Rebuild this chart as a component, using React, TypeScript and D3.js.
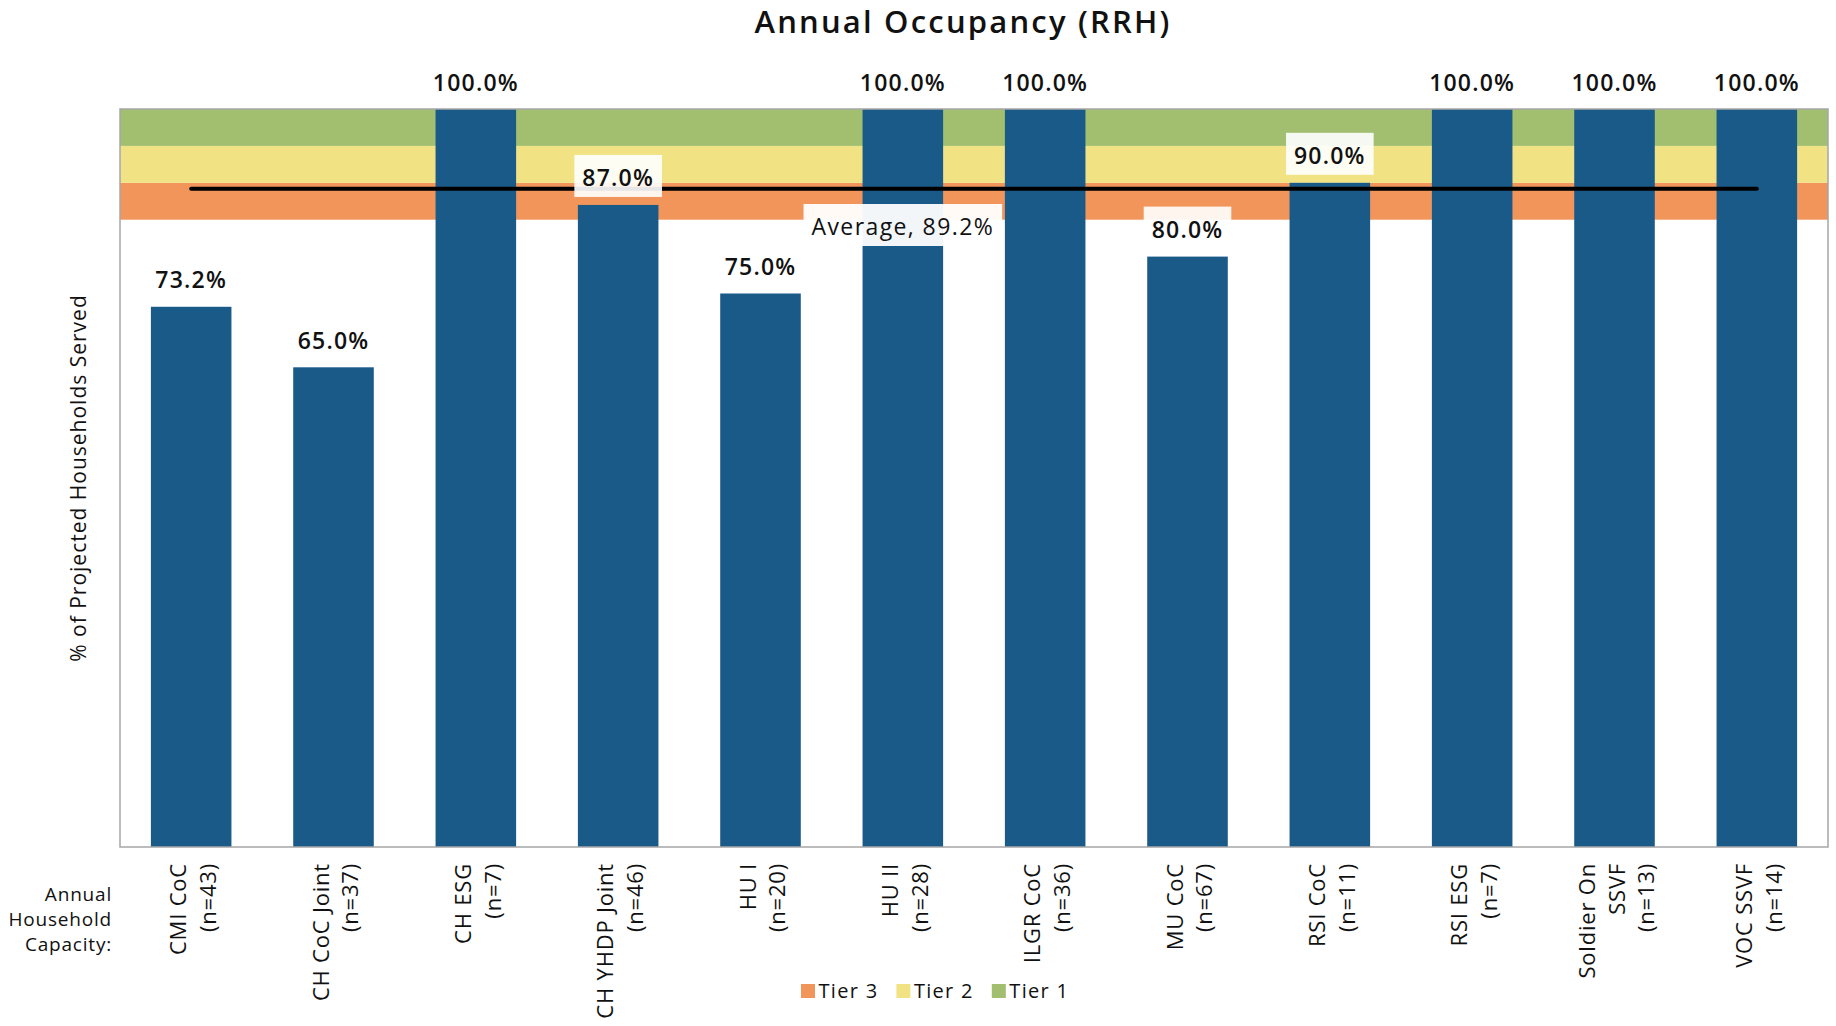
import React, { useEffect, useRef } from "react";
import * as d3 from "d3";

const categories = [
  "CMI CoC",
  "CH CoC Joint",
  "CH ESG",
  "CH YHDP Joint",
  "HU I",
  "HU II",
  "ILGR CoC",
  "MU CoC",
  "RSI CoC",
  "RSI ESG",
  "Soldier On\nSSVF",
  "VOC SSVF",
];
const capacity = [43, 37, 7, 46, 20, 28, 36, 67, 11, 7, 13, 14];
const occupancy = [73.2, 65.0, 100, 87.0, 75.0, 100, 100, 80.0, 90.0, 100, 100, 100];
const averageValue = 89.2;
const averageCategory = "HU II";

const tierNames = ["Tier 3", "Tier 2", "Tier 1"];
const tierLow = [85, 90, 95];
const tierHigh = [90, 95, 100];
const tierColors = ["#F2955A", "#F1E383", "#A2BF6F"];

const yDomain = [0, 100];
const titleText = "Annual Occupancy (RRH)";
const yTitle = "% of Projected Households Served";
const xTitleLines = ["Annual", "Household", "Capacity:"];

const W = 1836;
const H = 1026;
const FONT = "'Open Sans', 'DejaVu Sans', sans-serif";
const BAR = "#1A5A89";

export default function App() {
  const ref = useRef<SVGSVGElement | null>(null);

  useEffect(() => {
    document.body.style.margin = "0";
    const svg = d3.select(ref.current);
    svg.selectAll("*").remove();

    const left = 120, right = 1828, top = 109, bottom = 847;
    const x = d3.scaleBand<string>().domain(categories).range([left, right]).paddingInner(0.434).paddingOuter(0.217);
    const y = d3.scaleLinear().domain(yDomain).range([bottom, top]);
    const bw = x.bandwidth();

    // title
    svg.append("text")
      .attr("x", 963).attr("y", 32.5)
      .attr("text-anchor", "middle")
      .style("font-family", FONT).style("font-size", "31px").style("font-weight", 600)
      .style("letter-spacing", "2.2px").attr("fill", "#111")
      .text(titleText);

    // tier bands
    svg.append("g").selectAll("rect").data(tierNames).join("rect")
      .attr("x", left).attr("width", right - left)
      .attr("y", (_, i) => y(tierHigh[i]))
      .attr("height", (_, i) => y(tierLow[i]) - y(tierHigh[i]))
      .attr("fill", (_, i) => tierColors[i]);

    // bars
    svg.append("g").selectAll("rect").data(categories).join("rect")
      .attr("x", (d) => x(d)!)
      .attr("width", bw)
      .attr("y", (_, i) => y(occupancy[i]))
      .attr("height", (_, i) => y(0) - y(occupancy[i]))
      .attr("fill", BAR);

    // frame
    svg.append("rect")
      .attr("x", left).attr("y", top).attr("width", right - left).attr("height", bottom - top)
      .attr("fill", "none").attr("stroke", "#A6A6A6").attr("stroke-width", 1.5);

    // average line
    const first = categories[0], last = categories[categories.length - 1];
    svg.append("line")
      .attr("x1", x(first)! + bw / 2).attr("x2", x(last)! + bw / 2)
      .attr("y1", y(averageValue)).attr("y2", y(averageValue))
      .attr("stroke", "#000").attr("stroke-width", 4).attr("stroke-linecap", "round");

    // data labels with boxes
    const lg = svg.append("g");
    categories.forEach((c, i) => {
      const cx = x(c)! + bw / 2;
      const ty = y(occupancy[i]);
      const g = lg.append("g");
      const box = g.append("rect");
      const t = g.append("text")
        .attr("x", cx).attr("y", ty - 18.5)
        .attr("text-anchor", "middle")
        .style("font-family", FONT).style("font-size", "23px").style("font-weight", 600)
        .style("letter-spacing", "1.2px").attr("fill", "#111")
        .text(d3.format(".1f")(occupancy[i]) + "%");
      const w = (t.node() as SVGTextElement).getComputedTextLength();
      box.attr("x", cx - w / 2 - 8).attr("width", w + 16)
        .attr("y", ty - 50).attr("height", 42)
        .attr("fill", "#fff").attr("fill-opacity", 0.9);
    });

    // average label
    {
      const cx = x(averageCategory)! + bw / 2;
      const ay = y(averageValue);
      const g = svg.append("g");
      const box = g.append("rect");
      const t = g.append("text")
        .attr("x", cx).attr("y", ay + 46.3)
        .attr("text-anchor", "middle")
        .style("font-family", FONT).style("font-size", "23px").style("font-weight", 500)
        .style("letter-spacing", "1.4px").attr("fill", "#111")
        .text(`Average, ${d3.format(".1f")(averageValue)}%`);
      const w = (t.node() as SVGTextElement).getComputedTextLength();
      box.attr("x", cx - w / 2 - 8).attr("width", w + 16)
        .attr("y", ay + 15.3).attr("height", 42)
        .attr("fill", "#fff").attr("fill-opacity", 0.95);
    }

    // x category labels
    categories.forEach((c, i) => {
      const cx = x(c)! + bw / 2;
      const lines = [...c.split("\n"), `(n=${capacity[i]})`];
      const n = lines.length;
      lines.forEach((ln, j) => {
        const bx = cx + 10 + (j - (n - 1) / 2) * 29.5;
        svg.append("text")
          .attr("transform", `translate(${bx},863) rotate(-90)`)
          .attr("text-anchor", "end")
          .style("font-family", FONT).style("font-size", "22px")
          .style("letter-spacing", "0.8px").attr("fill", "#111")
          .text(ln);
      });
    });

    // x title lines
    xTitleLines.forEach((ln, j) => {
      svg.append("text")
        .attr("x", 112).attr("y", 901 + j * 25)
        .attr("text-anchor", "end")
        .style("font-family", FONT).style("font-size", "19px")
        .style("letter-spacing", "0.8px").attr("fill", "#111")
        .text(ln);
    });

    // y title
    svg.append("text")
      .attr("transform", `translate(85.5,${(top + bottom) / 2}) rotate(-90)`)
      .attr("text-anchor", "middle")
      .style("font-family", FONT).style("font-size", "21px")
      .style("letter-spacing", "1px").attr("fill", "#111")
      .text(yTitle);

    // legend
    let lx = 801;
    tierNames.forEach((nm, i) => {
      svg.append("rect").attr("x", lx).attr("y", 984).attr("width", 14).attr("height", 14).attr("fill", tierColors[i]);
      const t = svg.append("text")
        .attr("x", lx + 17.5).attr("y", 998)
        .style("font-family", FONT).style("font-size", "20px")
        .style("letter-spacing", "1.3px").attr("fill", "#111")
        .text(nm);
      const w = (t.node() as SVGTextElement).getComputedTextLength();
      lx = lx + 17.5 + w + 18;
    });
  }, []);

  return (
    <svg
      ref={ref}
      width={W}
      height={H}
      style={{ position: "absolute", left: 0, top: 0, display: "block", background: "#fff" }}
    />
  );
}
